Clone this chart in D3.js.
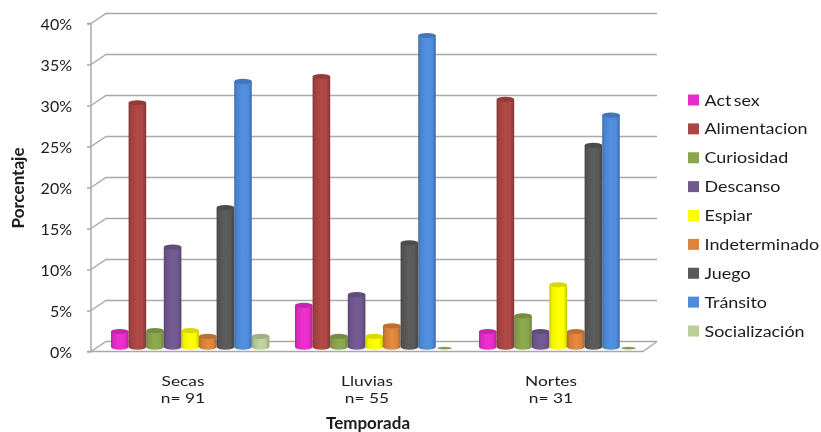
<!DOCTYPE html>
<html><head><meta charset="utf-8">
<script src="https://cdn.jsdelivr.net/npm/d3@7/dist/d3.min.js"></script>
<style>html,body{margin:0;padding:0;background:#fff;overflow:hidden}svg{display:block;filter:blur(0.35px)}text{font-family:Lato,sans-serif;fill:#1c1c1c}</style>
</head><body><svg id="c" width="821" height="432"></svg>
<script>
const categories=["Secas","Lluvias","Nortes"];
const sampleLabels=["n= 91","n= 55","n= 31"];
const seriesNames=["Act sex","Alimentacion","Curiosidad","Descanso","Espiar","Indeterminado","Juego","Tránsito","Socialización"];
const actSex=[1.9,5.1,1.9];
const alimentacion=[29.8,33,30.2];
const curiosidad=[2,1.3,3.8];
const descanso=[12.2,6.4,1.9];
const espiar=[2,1.3,7.6];
const indeterminado=[1.3,2.6,1.9];
const juego=[17,12.7,24.6];
const transito=[32.4,38,28.3];
const socializacion=[1.3,0,0];
const seriesValues=[actSex,alimentacion,curiosidad,descanso,espiar,indeterminado,juego,transito,socializacion];
const seriesColors=["#e62dc8","#aa4643","#89a54e","#71588f","#ffff00","#db843d","#595959","#4f8bd8","#b9cf96"];
const yTicks=[0,5,10,15,20,25,30,35,40];

const svg=d3.select("#c");
const defs=svg.append("defs");
const L=91,R=643,B=351.5,T=23.5,dx=15,dy=-10,grid="#a9a9a9";
const y=d3.scaleLinear().domain([0,40]).range([B,T]);
const x0=d3.scaleBand().domain(categories).range([L,R]);
const x1=d3.scaleBand().domain(seriesNames).range([20,178.4]);

seriesNames.forEach((n,i)=>{
  const g=defs.append("linearGradient").attr("id","g"+i);
  const c=d3.color(seriesColors[i]);
  [[0,c.darker(0.7)],[0.14,c.darker(0.15)],[0.5,c.brighter(0.12)],[0.8,c],[1,c.darker(0.7)]].forEach(s=>
    g.append("stop").attr("offset",s[0]).attr("stop-color",s[1]));
});

// walls and floor
const wall=svg.append("g").attr("stroke",grid).attr("stroke-width",1.5).attr("fill","none");
yTicks.forEach(t=>{
  wall.append("path").attr("d",d3.line()([[L,y(t)],[L+dx,y(t)+dy],[R+dx-1,y(t)+dy]]));
});
wall.append("path").attr("d",d3.line()([[L,B],[R,B],[R+dx-1,B+dy]]));

const yAxis=svg.append("g").attr("transform",`translate(${L},0)`)
  .call(d3.axisLeft(y).tickValues(yTicks).tickFormat(d=>d+"%").tickSize(4).tickPadding(15));
yAxis.selectAll("path,line").attr("stroke",grid).attr("stroke-width",1.5);
yAxis.select("path").attr("d",`M${-4},${T}H0V${B}H${-4}`);
yAxis.selectAll("text").attr("font-size",16).attr("dy","0.4em").style("font-family","Lato,sans-serif").attr("fill","#1c1c1c");

// cylinders
const ry=2.6;
const offset=4.4;
categories.forEach((cat,ci)=>{
  seriesNames.forEach((n,si)=>{
    const v=seriesValues[si][ci];
    const xl=x0(cat)+x1(n), w=x1.bandwidth(), rx=w/2;
    const base=y(0)-offset, top=y(v)-offset;
    const g=svg.append("g");
    if(v===0){
      g.append("ellipse").attr("cx",xl+rx).attr("cy",base+1).attr("rx",rx*0.85).attr("ry",1.3).attr("fill",d3.color(seriesColors[2]).darker(0.1));
      return;
    }
    g.append("path").attr("fill",`url(#g${si})`)
      .attr("d",`M${xl},${top}V${base}A${rx},${ry} 0 0 0 ${xl+w},${base}V${top}Z`);
    g.append("ellipse").attr("cx",xl+rx).attr("cy",top).attr("rx",rx).attr("ry",ry)
      .attr("fill",d3.color(seriesColors[si]).darker(0.45));
  });
});

// category labels (slightly widened, as in the reference)
categories.forEach((c,i)=>{
  const g=svg.append("g").attr("transform",`translate(${x0(c)+x0.bandwidth()/2},0) scale(1.24,1)`);
  g.append("text").attr("y",386).attr("text-anchor","middle").attr("font-size",14).text(c);
  g.append("text").attr("y",403).attr("text-anchor","middle").attr("font-size",14).text(sampleLabels[i]);
});
svg.append("text").attr("x",368).attr("y",428.5).attr("text-anchor","middle").attr("font-size",17).attr("font-weight",700).text("Temporada");
svg.append("text").attr("transform","translate(23.5,188) rotate(-90)").attr("text-anchor","middle").attr("font-size",17).attr("font-weight",700).text("Porcentaje");

// legend
const ly=d3.scalePoint().domain(seriesNames).range([100,331]);
seriesNames.forEach((n,i)=>{
  svg.append("rect").attr("x",688).attr("y",ly(n)-5.5).attr("width",11).attr("height",11).attr("fill",seriesColors[i]);
  svg.append("text").attr("transform",`translate(704.5,${ly(n)+5.5}) scale(1.12,1)`).attr("font-size",16).attr("word-spacing",-2).text(n);
});
</script></body></html>
